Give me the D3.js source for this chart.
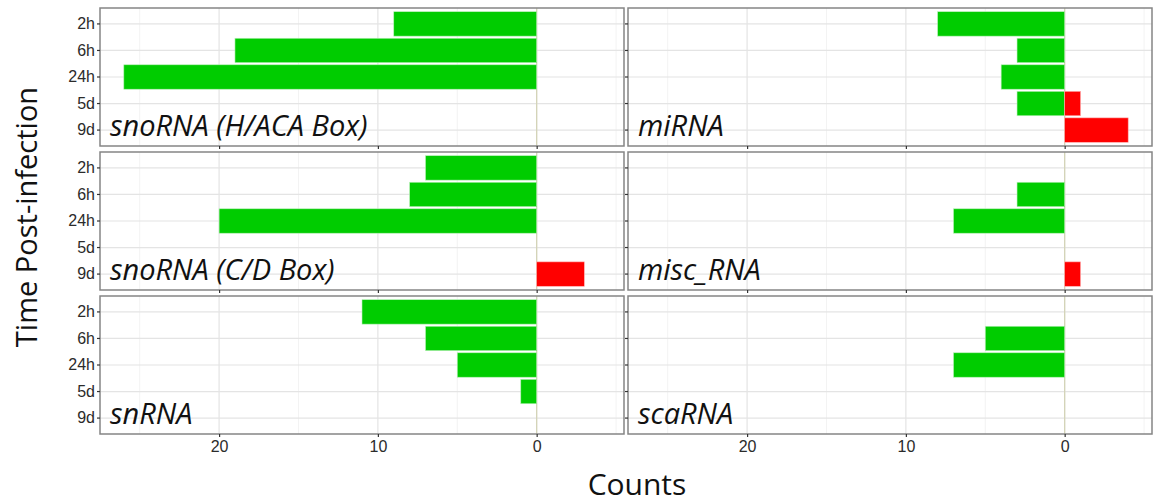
<!DOCTYPE html>
<html>
<head>
<meta charset="utf-8">
<script src="https://cdn.jsdelivr.net/npm/d3@7"></script>
<style>
  body { margin: 0; background: #fff; }
  svg { display: block; }
</style>
</head>
<body>
<div id="chart"></div>
<script>
// time points on the y axis (top to bottom)
var times = ["2h", "6h", "24h", "5d", "9d"]
// facet names, row by row
var panelNames = ["snoRNA (H/ACA Box)", "miRNA", "snoRNA (C/D Box)", "misc_RNA", "snRNA", "scaRNA"]
// green bars (drawn to the left of 0)
var downCounts = [
    [9, 19, 26, 0, 0],
    [8, 3, 4, 3, 0],
    [7, 8, 20, 0, 0],
    [0, 3, 7, 0, 0],
    [11, 7, 5, 1, 0],
    [0, 5, 7, 0, 0]
]
// red bars (drawn to the right of 0)
var upCounts = [
    [0, 0, 0, 0, 0],
    [0, 0, 0, 1, 4],
    [0, 0, 0, 0, 3],
    [0, 0, 0, 0, 1],
    [0, 0, 0, 0, 0],
    [0, 0, 0, 0, 0]
]
var majorTicks = [20, 10, 0]
var minorTicks = [25, 15, 5, -5]

var width = 1156
var height = 504
var panelW = 524
var panelH = 138
var colX = [100, 628]
var rowY = [8, 152, 296]

var svg = d3.select("#chart").append("svg")
    .attr("width", width)
    .attr("height", height)

var x = d3.scaleLinear()
    .domain([27.5, -5.5])
    .range([0, panelW])

var y = d3.scaleBand()
    .domain(times)
    .range([0, panelH])
    .paddingInner(0.08)
    .paddingOuter(0.14)

panelNames.forEach(function(name, i) {
    var col = i % 2
    var row = Math.floor(i / 2)
    var g = svg.append("g")
        .attr("transform", "translate(" + colX[col] + "," + rowY[row] + ")")

    // grid
    g.selectAll(".minor").data(minorTicks).enter().append("line")
        .attr("x1", d => x(d)).attr("x2", d => x(d))
        .attr("y1", 0).attr("y2", panelH)
        .attr("stroke", "#f3f3f3").attr("stroke-width", 1)
    g.selectAll(".major").data(majorTicks).enter().append("line")
        .attr("x1", d => x(d)).attr("x2", d => x(d))
        .attr("y1", 0).attr("y2", panelH)
        .attr("stroke", "#e4e4e4").attr("stroke-width", 1.2)
    g.selectAll(".hgrid").data(times).enter().append("line")
        .attr("x1", 0).attr("x2", panelW)
        .attr("y1", d => y(d) + y.bandwidth() / 2)
        .attr("y2", d => y(d) + y.bandwidth() / 2)
        .attr("stroke", "#e4e4e4").attr("stroke-width", 1.2)

    // zero line
    g.append("line")
        .attr("x1", x(0)).attr("x2", x(0))
        .attr("y1", 0).attr("y2", panelH)
        .attr("stroke", "#d3d3b4").attr("stroke-width", 1.2)

    // bars
    var down = times.map((t, j) => ({t: t, v: downCounts[i][j]})).filter(d => d.v > 0)
    var up = times.map((t, j) => ({t: t, v: -upCounts[i][j]})).filter(d => d.v < 0)
    g.selectAll(".down").data(down).enter().append("rect")
        .attr("x", d => x(d.v))
        .attr("width", d => x(0) - x(d.v))
        .attr("y", d => y(d.t))
        .attr("height", y.bandwidth())
        .attr("fill", "#00cc00")
        .attr("stroke", "#b8f0b8").attr("stroke-width", 0.6)
    g.selectAll(".up").data(up).enter().append("rect")
        .attr("x", x(0))
        .attr("width", d => x(d.v) - x(0))
        .attr("y", d => y(d.t))
        .attr("height", y.bandwidth())
        .attr("fill", "#ff0000")
        .attr("stroke", "#ffb0b0").attr("stroke-width", 0.6)

    // facet label
    g.append("text")
        .attr("x", 10)
        .attr("y", panelH - 10)
        .attr("font-family", "Open Sans")
        .attr("font-style", "italic")
        .attr("font-size", 29)
        .attr("fill", "#111")
        .text(name)

    // border
    g.append("rect")
        .attr("width", panelW).attr("height", panelH)
        .attr("fill", "none")
        .attr("stroke", "#858585").attr("stroke-width", 1.5)

    // axes
    var yAxis = g.append("g")
        .call(d3.axisLeft(y).tickSize(3).tickPadding(2)
            .tickFormat(col === 0 ? null : ""))
    var xAxis = g.append("g")
        .attr("transform", "translate(0," + panelH + ")")
        .call(d3.axisBottom(x).tickValues(majorTicks).tickSize(3).tickPadding(4)
            .tickFormat(row === 2 ? d3.format("d") : ""))
    ;[yAxis, xAxis].forEach(function(a) {
        a.select(".domain").remove()
        a.selectAll(".tick line").attr("stroke", "#333").attr("stroke-width", 1.2)
        a.selectAll(".tick text")
            .attr("font-family", "Liberation Sans, Arial, sans-serif")
            .attr("font-size", 16)
            .attr("fill", "#2b2b2b")
    })
})

// axis titles
svg.append("text")
    .attr("transform", "translate(37,217) rotate(-90)")
    .attr("text-anchor", "middle")
    .attr("font-family", "Open Sans")
    .attr("font-size", 29)
    .attr("fill", "#111")
    .text("Time Post-infection")

svg.append("text")
    .attr("x", 637)
    .attr("y", 495)
    .attr("text-anchor", "middle")
    .attr("font-family", "Open Sans")
    .attr("font-size", 30)
    .attr("fill", "#111")
    .text("Counts")
</script>
</body>
</html>
